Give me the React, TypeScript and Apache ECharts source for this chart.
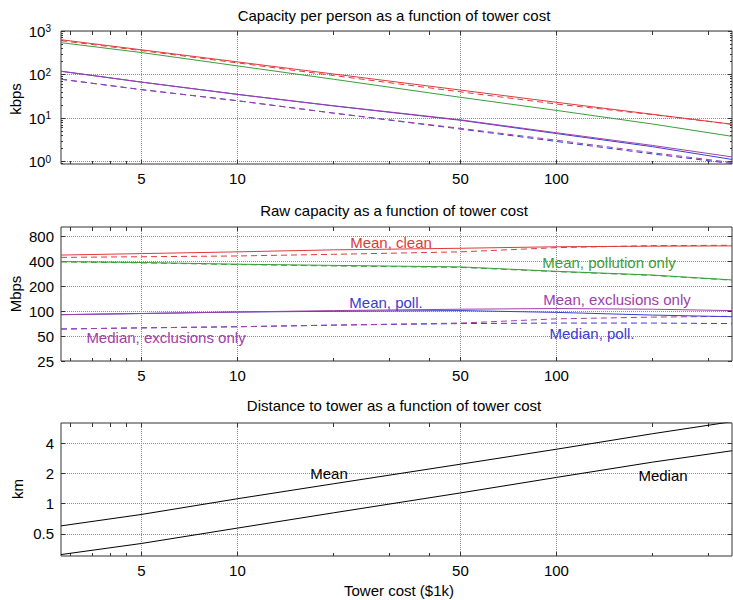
import React, { useEffect, useRef } from 'react';
import * as echarts from 'echarts';

// ---------- shared x axis (tower cost, $1k) ----------
const cost = [2.8, 5, 10, 20, 50, 100, 200, 355];
const costTicks = [5, 10, 50, 100];
const costMinorTicks = [3, 3.5, 4, 4.5, 20, 30, 40, 200, 300];

// ---------- panel 1: capacity per person (kbps) ----------
const kbpsTicks = [1, 10, 100, 1000];
const kbpsMinorTicks = [0.9, 2, 3, 4, 5, 6, 7, 8, 9, 20, 30, 40, 50, 60, 70, 80, 90, 200, 300, 400, 500, 600, 700, 800, 900];
const kbpsMeanClean = [630, 370, 195, 103, 44, 23, 12.2, 7.2];
const kbpsMedianClean = [600, 355, 185, 95, 40, 21, 12, 7.2];
const kbpsMeanPollution = [540, 320, 158, 78, 30, 15, 7.3, 3.8];
const kbpsMeanPoll = [119, 67, 35, 19, 8.9, 4.4, 2.2, 1.12];
const kbpsMeanExcl = [119, 67, 35, 19.2, 9.1, 4.6, 2.35, 1.28];
const kbpsMedianPoll = [78, 45, 25, 13, 5.6, 2.9, 1.5, 0.9];
const kbpsMedianExcl = [78, 45, 25, 13, 5.8, 3.1, 1.6, 0.95];

// ---------- panel 2: raw capacity (Mbps) ----------
const mbpsTicks = [25, 50, 100, 200, 400, 800];
const mbpsMeanClean = [480, 500, 525, 555, 580, 605, 615, 620];
const mbpsMedianClean = [450, 458, 468, 490, 525, 590, 625, 630];
const mbpsMeanPollution = [400, 390, 372, 360, 345, 305, 275, 240];
const mbpsMedianPollution = [396, 386, 368, 354, 340, 302, 272, 238];
const mbpsMeanPoll = [91, 94, 98, 100, 102, 97, 90, 86];
const mbpsMeanExcl = [91, 94, 98, 102, 106, 108, 106, 102];
const mbpsMedianPoll = [61, 63, 65, 68, 71, 72, 72, 71];
const mbpsMedianExcl = [61, 63, 65, 68, 72, 81, 85, 87];

// ---------- panel 3: distance to tower (km) ----------
const kmTicks = [0.5, 1, 2, 4];
const kmMean = [0.6, 0.78, 1.12, 1.58, 2.48, 3.5, 5.0, 6.6];
const kmMedian = [0.31, 0.4, 0.57, 0.81, 1.28, 1.83, 2.6, 3.38];

const titles = [
  'Capacity per person as a function of tower cost',
  'Raw capacity as a function of tower cost',
  'Distance to tower as a function of tower cost',
];
const yNames = ['kbps', 'Mbps', 'km'];
const xName = 'Tower cost ($1k)';

const FONT = '"Liberation Sans", Arial, Helvetica, sans-serif';
const RED = '#e0393c';
const GREEN = '#3a9e3a';
const BLUE = '#3c3cd2';
const PURPLE = '#a040a8';
const AXIS = '#333333';
const GRIDLINE = '#8c8c8c';

const pair = (ys: number[]) => cost.map((c, i) => [c, ys[i]]);
const fmtNum = (v: number) => String(Number(Number(v).toPrecision(6)));

export default function App() {
  const ref = useRef<HTMLDivElement>(null);

  useEffect(() => {
    if (!ref.current) return;
    const chart = echarts.init(ref.current, null, { renderer: 'svg' });

    const gridDefs = [
      { top: 31, height: 133 },
      { top: 227, height: 134 },
      { top: 423, height: 133 },
    ];
    const grid = gridDefs.map((g) => ({
      left: 61,
      right: 1,
      top: g.top,
      height: g.height,
      show: true,
      borderColor: AXIS,
      borderWidth: 1,
      backgroundColor: 'transparent',
      containLabel: false,
    }));

    const xAxis: any[] = [];
    const yAxis: any[] = [];
    const mainX: number[] = [];
    const mainY: number[] = [];

    const tickStyle = { color: AXIS, width: 1 };
    const xBase = {
      type: 'log',
      min: 2.8,
      max: 355,
      axisLine: { show: false },
      splitLine: { show: false },
      axisLabel: { show: false },
      axisTick: { show: false },
    };

    for (let g = 0; g < 3; g++) {
      mainX.push(xAxis.length);
      xAxis.push({
        ...xBase,
        gridIndex: g,
        position: 'bottom',
        axisTick: { show: true, inside: true, length: 4, customValues: costTicks, lineStyle: tickStyle },
        axisLabel: {
          show: true,
          customValues: costTicks,
          margin: 7,
          fontSize: 15,
          color: '#000',
          fontFamily: FONT,
          formatter: (v: number) => fmtNum(v),
        },
        splitLine: { show: true, lineStyle: { type: 'dotted', color: GRIDLINE, width: 1 } },
      });
      xAxis.push({
        ...xBase,
        gridIndex: g,
        position: 'bottom',
        axisTick: { show: true, inside: true, length: 3, customValues: costMinorTicks, lineStyle: tickStyle },
      });
      xAxis.push({
        ...xBase,
        gridIndex: g,
        position: 'top',
        axisTick: { show: true, inside: true, length: 4, customValues: [...costTicks, ...costMinorTicks], lineStyle: tickStyle },
      });
    }

    const yDefs = [
      {
        min: 0.88,
        max: 1000,
        ticks: kbpsTicks,
        minor: kbpsMinorTicks,
        margin: 10,
        formatter: (v: number) => `{b|10}{s|${Math.round(Math.log10(v))}}`,
      },
      { min: 25, max: 1050, ticks: mbpsTicks, minor: [] as number[], margin: 7, formatter: (v: number) => fmtNum(v) },
      { min: 0.3, max: 6.4, ticks: kmTicks, minor: [] as number[], margin: 7, formatter: (v: number) => fmtNum(v) },
    ];

    yDefs.forEach((d, g) => {
      const base = {
        type: 'log',
        gridIndex: g,
        min: d.min,
        max: d.max,
        axisLine: { show: false },
        splitLine: { show: false },
        axisLabel: { show: false },
        axisTick: { show: false },
      };
      mainY.push(yAxis.length);
      yAxis.push({
        ...base,
        position: 'left',
        axisTick: { show: true, inside: true, length: 4, customValues: d.ticks, lineStyle: tickStyle },
        axisLabel: {
          show: true,
          customValues: d.ticks,
          margin: d.margin,
          fontSize: 15,
          color: '#000',
          fontFamily: FONT,
          formatter: d.formatter,
          rich: {
            b: { fontSize: 15, fontFamily: FONT, color: '#000' },
            s: { fontSize: 10, fontFamily: FONT, color: '#000', verticalAlign: 'top' },
          },
        },
        splitLine: { show: true, lineStyle: { type: 'dotted', color: GRIDLINE, width: 1 } },
      });
      yAxis.push({
        ...base,
        position: 'right',
        axisTick: { show: true, inside: true, length: 4, customValues: d.ticks, lineStyle: tickStyle },
      });
      if (d.minor.length) {
        yAxis.push({
          ...base,
          position: 'left',
          axisTick: { show: true, inside: true, length: 2, customValues: d.minor, lineStyle: tickStyle },
        });
        yAxis.push({
          ...base,
          position: 'right',
          axisTick: { show: true, inside: true, length: 2, customValues: d.minor, lineStyle: tickStyle },
        });
      }
    });

    const line = (g: number, ys: number[], color: string, dashed: boolean) => ({
      type: 'line',
      xAxisIndex: mainX[g],
      yAxisIndex: mainY[g],
      data: pair(ys),
      showSymbol: false,
      symbol: 'none',
      silent: true,
      clip: true,
      lineStyle: { color, width: 1, type: dashed ? [6, 4] : 'solid' },
    });

    const series = [
      line(0, kbpsMedianClean, RED, true),
      line(0, kbpsMeanClean, RED, false),
      line(0, kbpsMeanPollution, GREEN, false),
      line(0, kbpsMedianPoll, BLUE, true),
      line(0, kbpsMedianExcl, PURPLE, true),
      line(0, kbpsMeanPoll, BLUE, false),
      line(0, kbpsMeanExcl, PURPLE, false),

      line(1, mbpsMedianClean, RED, true),
      line(1, mbpsMeanClean, RED, false),
      line(1, mbpsMeanPollution, GREEN, false),
      line(1, mbpsMedianPollution, GREEN, true),
      line(1, mbpsMedianPoll, BLUE, true),
      line(1, mbpsMedianExcl, PURPLE, true),
      line(1, mbpsMeanPoll, BLUE, false),
      line(1, mbpsMeanExcl, PURPLE, false),

      line(2, kmMean, '#000', false),
      line(2, kmMedian, '#000', false),
    ];

    const txt = (text: string, x: number, y: number, fill = '#000', rotation = 0) => ({
      type: 'text',
      x,
      y,
      rotation,
      silent: true,
      z: 100,
      style: {
        text,
        fill,
        font: `15px ${FONT}`,
        align: 'center',
        verticalAlign: 'middle',
      },
    });

    const graphic = [
      txt(titles[0], 394, 15),
      txt(titles[1], 394, 210),
      txt(titles[2], 394, 405),
      txt(xName, 399, 590),
      txt(yNames[0], 15, 99, '#000', Math.PI / 2),
      txt(yNames[1], 15, 294, '#000', Math.PI / 2),
      txt(yNames[2], 17, 489, '#000', Math.PI / 2),
      txt('Mean, clean', 391, 242, RED),
      txt('Mean, pollution only', 609, 262, GREEN),
      txt('Mean, poll.', 386, 302, BLUE),
      txt('Mean, exclusions only', 617, 299, PURPLE),
      txt('Median, poll.', 592, 333, BLUE),
      txt('Median, exclusions only', 166, 337, PURPLE),
      txt('Mean', 329, 473),
      txt('Median', 663, 475),
    ];

    chart.setOption({
      animation: false,
      backgroundColor: '#ffffff',
      textStyle: { fontFamily: FONT },
      grid,
      xAxis,
      yAxis,
      series,
      graphic,
    });

    return () => chart.dispose();
  }, []);

  return (
    <div
      ref={ref}
      style={{ position: 'absolute', left: 0, top: 0, width: 733, height: 600 }}
    />
  );
}
